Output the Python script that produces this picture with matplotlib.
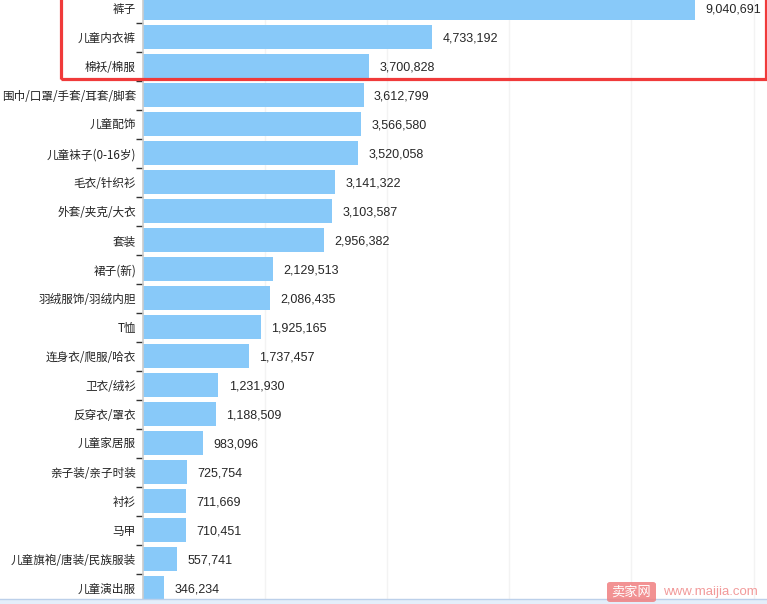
import matplotlib
matplotlib.use("Agg")
import matplotlib.pyplot as plt
from matplotlib.patches import Rectangle, FancyBboxPatch

plt.rcParams['font.family'] = ['Noto Sans CJK SC', 'DejaVu Sans']

categories = ["裤子", "儿童内衣裤", "棉袄/棉服", "围巾/口罩/手套/耳套/脚套", "儿童配饰",
              "儿童袜子(0-16岁)", "毛衣/针织衫", "外套/夹克/大衣", "套装", "裙子(新)",
              "羽绒服饰/羽绒内胆", "T恤", "连身衣/爬服/哈衣", "卫衣/绒衫", "反穿衣/罩衣",
              "儿童家居服", "亲子装/亲子时装", "衬衫", "马甲", "儿童旗袍/唐装/民族服装", "儿童演出服"]
values = [9040691, 4733192, 3700828, 3612799, 3566580, 3520058, 3141322, 3103587,
          2956382, 2129513, 2086435, 1925165, 1737457, 1231930, 1188509, 983096,
          725754, 711669, 710451, 557741, 346234]

W, H = 767, 604
fig = plt.figure(figsize=(W / 100, H / 100), dpi=100)
fig.patch.set_facecolor("white")

row = 29.0
top_c = 8.2
n = len(categories)
ax_top = top_c - row / 2
ax_bot = top_c + (n - 1) * row + row / 2
left = 143
ax = fig.add_axes([left / W, (H - ax_bot) / H, (W - left) / W, (ax_bot - ax_top) / H])
ax.set_facecolor("none")

y = list(range(n))
ax.barh(y, values, height=0.83, color="#88c9f9", zorder=2)
ax.set_ylim(n - 0.5, -0.5)
ax.set_xlim(0, 10.22e6)

for yi, v in zip(y, values):
    ax.text(v + 0.17e6, yi + 0.05, f"{v:,}", va="center", ha="left", fontsize=9,
            color="#262626", family=["Liberation Sans", "DejaVu Sans"], zorder=3)

ax.set_yticks(y)
ax.set_yticklabels(categories, fontsize=8.35, color="#222222")
ax.tick_params(axis="y", length=0, pad=5)
# minor ticks at category boundaries
ax.set_yticks([i + 0.5 for i in range(-1, n)], minor=True)
ax.tick_params(axis="y", which="minor", length=5, width=1, color="#333333")
ax.set_xticks([2e6, 4e6, 6e6, 8e6, 10e6])
ax.tick_params(axis="x", length=0, labelbottom=False)
ax.grid(axis="x", color="#f3f3f3", linewidth=1, zorder=0)
for s in ["top", "right", "bottom"]:
    ax.spines[s].set_visible(False)
ax.spines["left"].set_color("#cccccc")
ax.spines["left"].set_linewidth(1.2)

# red highlight rectangle
fig.patches.append(Rectangle((60.5 / W, (H - 78.5) / H), (765.5 - 60.5) / W, 80 / H,
                             transform=fig.transFigure, fill=False, edgecolor="#f03a3a",
                             linewidth=2.3, zorder=10))

# bottom band
fig.patches.append(Rectangle((0, 0), 1, 5.5 / H, transform=fig.transFigure,
                             facecolor="#e4eefa", edgecolor="none", zorder=11))
fig.add_artist(plt.Line2D([0, 1], [5.5 / H, 5.5 / H], transform=fig.transFigure,
                          color="#bcd0ea", linewidth=1, zorder=12))

# watermark
fig.patches.append(FancyBboxPatch((607 / W, 2 / H), 49 / W, 20 / H,
                                  boxstyle="round,pad=0,rounding_size=0.004",
                                  transform=fig.transFigure, facecolor="#f07f80",
                                  edgecolor="none", alpha=0.85, zorder=13))
fig.text(631.5 / W, 12 / H, "卖家网", ha="center", va="center", fontsize=9.5,
         color="white", zorder=14)
fig.text(663 / W, 12 / H, "www.maijia.com", ha="left", va="center", fontsize=9.5,
         color="#f29a9a", family=["Liberation Sans", "DejaVu Sans"], zorder=14)

fig.savefig("out.png", dpi=100)
